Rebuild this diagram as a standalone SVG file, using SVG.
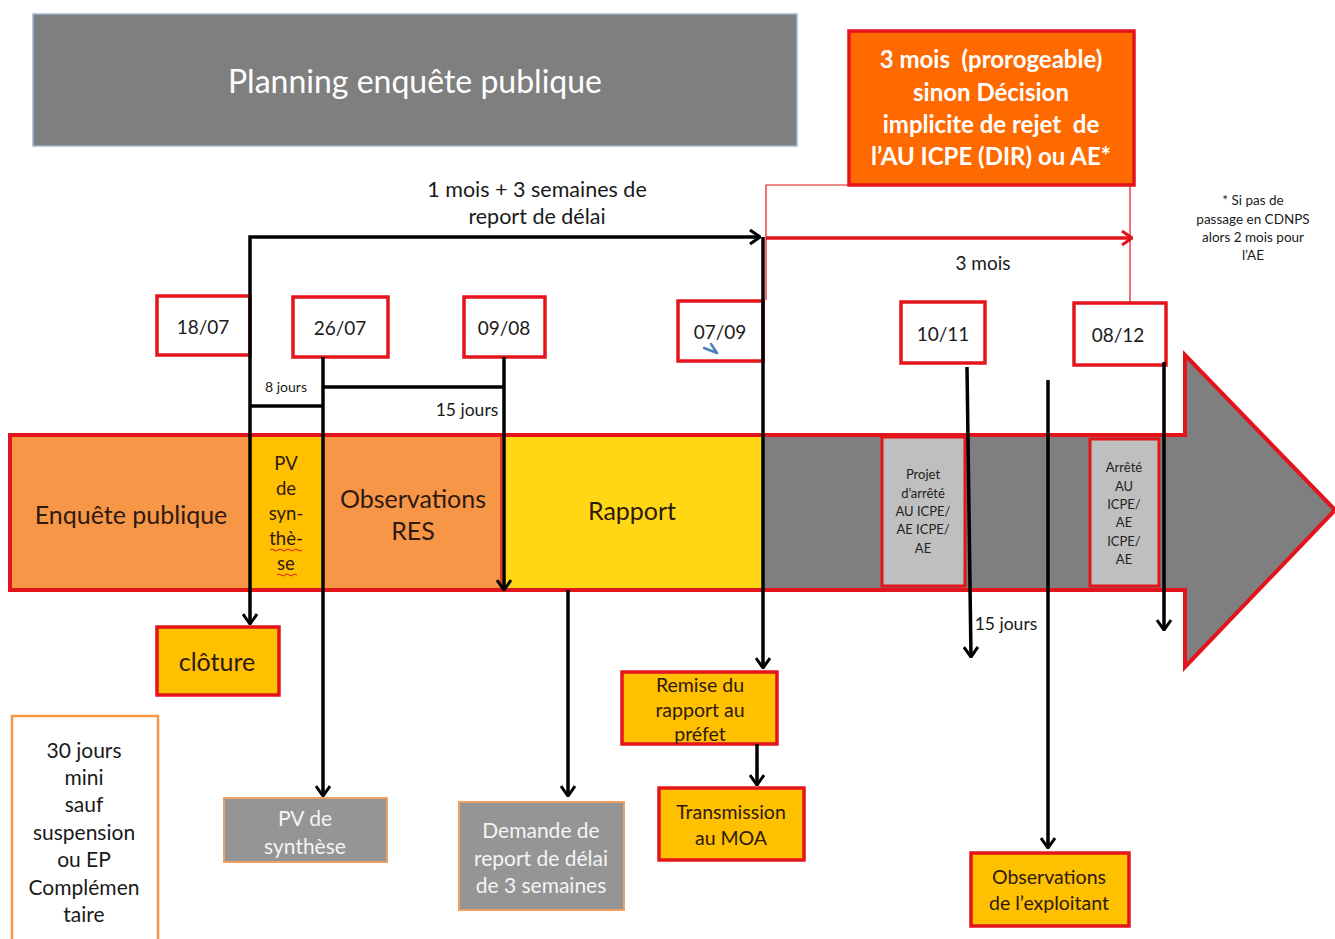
<svg xmlns="http://www.w3.org/2000/svg" width="1335" height="939" viewBox="0 0 1335 939">
<style>
text{font-family:Lato,"Open Sans","Liberation Sans",sans-serif;text-anchor:middle;dominant-baseline:central;fill:#1a1a1a;white-space:pre}
.date{fill:#fff;stroke:#e3141b;stroke-width:3.5}
.ybox{fill:#ffc000;stroke:#e3141b;stroke-width:3.5}
.gbox{fill:#959595;stroke:#f0a060;stroke-width:2}
.lgbox{fill:#bfbfbf;stroke:#e3141b;stroke-width:3}
.ln{stroke:#000;stroke-width:3.5;fill:none}
.arr{stroke:#000;stroke-width:3.5;fill:none;marker-end:url(#ah)}
.d{font-size:19px}
.b22{font-size:25px;fill:#2e1a10}
.s13{font-size:13px;fill:#222}
.w19{font-size:21px;fill:#f4f4f4}
.y17{font-size:19.5px;fill:#2e1a10}
.ob{font-size:24px;font-weight:bold;fill:#fff}
.t21{font-size:21px}
</style>
<defs>
<marker id="ah" viewBox="0 0 12 16" refX="11" refY="8" markerWidth="12" markerHeight="16" markerUnits="userSpaceOnUse" orient="auto">
<path d="M1,1 L11,8 L1,15" fill="none" stroke="#000" stroke-width="3"/>
</marker>
<marker id="rah" viewBox="0 0 12 16" refX="11" refY="8" markerWidth="12" markerHeight="16" markerUnits="userSpaceOnUse" orient="auto">
<path d="M1,1 L11,8 L1,15" fill="none" stroke="#e3141b" stroke-width="3"/>
</marker>
</defs>
<rect width="1335" height="939" fill="#fff"/>

<g id="title">
<rect x="33" y="14" width="764" height="132" fill="#7f7f7f" stroke="#9fb8d6" stroke-width="1.5"/>
<text x="415" y="80" style="font-size:32px;fill:#fff">Planning enquête publique</text>
</g>

<g id="delai-box">
<rect x="849" y="31" width="285" height="154" fill="#ff6a00" stroke="#e3141b" stroke-width="3.5"/>
<text x="991" y="58" class="ob">3 mois  (prorogeable)</text>
<text x="991" y="91" class="ob">sinon Décision</text>
<text x="991" y="123" class="ob">implicite de rejet  de</text>
<text x="991" y="155" class="ob">l’AU ICPE (DIR) ou AE*</text>
</g>

<g id="footnote">
<text x="1253" y="200" style="font-size:13.5px">* Si pas de</text>
<text x="1253" y="219" style="font-size:13.5px">passage en CDNPS</text>
<text x="1253" y="237" style="font-size:13.5px">alors 2 mois pour</text>
<text x="1253" y="255" style="font-size:13.5px">l’AE</text>
</g>

<g id="timeline">
<polygon points="10,435 1185,435 1185,355 1335,510 1185,667 1185,590 10,590" fill="#7f7f7f"/>
<rect x="10" y="435" width="240" height="155" fill="#f79646"/>
<rect x="250" y="435" width="73" height="155" fill="#ffc000"/>
<rect x="323" y="435" width="179" height="155" fill="#f79646"/>
<rect x="502" y="435" width="261" height="155" fill="#ffd714"/>
<line x1="501" y1="437" x2="501" y2="588" stroke="#e3141b" stroke-width="1.5"/>
<polygon points="10,435 1185,435 1185,355 1335,510 1185,667 1185,590 10,590" fill="none" stroke="#e3141b" stroke-width="4"/>
<text x="131" y="514" class="b22">Enquête publique</text>
<text x="286" y="463" style="font-size:18.5px;fill:#2e1a10">PV</text>
<text x="286" y="488" style="font-size:18.5px;fill:#2e1a10">de</text>
<text x="286" y="513" style="font-size:18.5px;fill:#2e1a10">syn-</text>
<text x="286" y="538" style="font-size:18.5px;fill:#2e1a10">thè-</text>
<text x="286" y="563" style="font-size:18.5px;fill:#2e1a10">se</text>
<path d="M270,550 q2,-2 4,0 t4,0 t4,0 t4,0 t4,0 t4,0 t4,0 t4,0" fill="none" stroke="#e3141b" stroke-width="1"/>
<path d="M277,575 q2,-2 4,0 t4,0 t4,0 t4,0 t4,0" fill="none" stroke="#e3141b" stroke-width="1"/>
<text x="413" y="498" class="b22">Observations</text>
<text x="413" y="530" class="b22">RES</text>
<text x="632" y="510" class="b22">Rapport</text>
</g>

<g id="projet">
<rect x="882" y="437" width="83" height="149" class="lgbox"/>
<text x="923" y="474" class="s13">Projet</text>
<text x="923" y="493" class="s13">d’arrêté</text>
<text x="923" y="511" class="s13">AU ICPE/</text>
<text x="923" y="529" class="s13">AE ICPE/</text>
<text x="923" y="548" class="s13">AE</text>
</g>

<g id="arrete">
<rect x="1090" y="439" width="69" height="147" class="lgbox"/>
<text x="1124" y="467" class="s13">Arrêté</text>
<text x="1124" y="486" class="s13">AU</text>
<text x="1124" y="504" class="s13">ICPE/</text>
<text x="1124" y="522" class="s13">AE</text>
<text x="1124" y="541" class="s13">ICPE/</text>
<text x="1124" y="559" class="s13">AE</text>
</g>

<g id="d1807"><rect x="157" y="296" width="93" height="59" class="date"/><text x="203" y="326" class="d">18/07</text></g>
<g id="d2607"><rect x="293" y="297" width="95" height="60" class="date"/><text x="340" y="327" class="d">26/07</text></g>
<g id="d0908"><rect x="464" y="297" width="81" height="60" class="date"/><text x="504" y="327" class="d">09/08</text></g>
<g id="d0709"><rect x="678" y="301" width="85" height="60" class="date"/><text x="720" y="331" class="d">07/09</text>
<path d="M704,348 L717,353 M711,344 L717,353" fill="none" stroke="#4f81bd" stroke-width="2.5" stroke-linecap="round"/></g>
<g id="d1011"><rect x="901" y="302" width="84" height="61" class="date"/><text x="943" y="333" class="d">10/11</text></g>
<g id="d0812"><rect x="1074" y="303" width="92" height="62" class="date"/><text x="1118" y="334" class="d">08/12</text></g>

<g id="cloture"><rect x="157" y="627" width="122" height="68" class="ybox"/><text x="217" y="661" class="b22">clôture</text></g>

<g id="trente">
<rect x="12" y="716" width="146" height="230" fill="#fff" stroke="#f79646" stroke-width="2.5"/>
<text x="84" y="749" class="t21">30 jours</text>
<text x="84" y="776" class="t21">mini</text>
<text x="84" y="803" class="t21">sauf</text>
<text x="84" y="831" class="t21">suspension</text>
<text x="84" y="858" class="t21">ou EP</text>
<text x="84" y="886" class="t21">Complémen</text>
<text x="84" y="913" class="t21">taire</text>
</g>

<g id="pvsynthese"><rect x="224" y="798" width="163" height="64" class="gbox"/>
<text x="305" y="817" class="w19">PV de</text><text x="305" y="845" class="w19">synthèse</text></g>

<g id="demande"><rect x="459" y="802" width="165" height="108" class="gbox"/>
<text x="541" y="829" class="w19">Demande de</text><text x="541" y="857" class="w19">report de délai</text><text x="541" y="884" class="w19">de 3 semaines</text></g>

<g id="remise"><rect x="622" y="672" width="155" height="72" class="ybox"/>
<text x="700" y="684" class="y17">Remise du</text>
<text x="700" y="709" class="y17">rapport au</text>
<text x="700" y="733" class="y17">préfet</text></g>

<g id="transmission"><rect x="659" y="788" width="145" height="72" class="ybox"/>
<text x="731" y="811" class="y17">Transmission</text><text x="731" y="837" class="y17">au MOA</text></g>

<g id="exploitant"><rect x="971" y="853" width="158" height="73" class="ybox"/>
<text x="1049" y="876" class="y17">Observations</text><text x="1049" y="902" class="y17">de l’exploitant</text></g>

<g id="connectors">
<polyline points="766,300 766,185 1130,185 1130,303" fill="none" stroke="#e3141b" stroke-width="1.2"/>
<line x1="766" y1="238" x2="1132" y2="238" stroke="#e3141b" stroke-width="3.5" marker-end="url(#rah)"/>
<text x="983" y="262" style="font-size:19px">3 mois</text>

<polyline points="250,355 250,237 760,237" class="arr"/>
<text x="537" y="189" style="font-size:21.5px">1 mois + 3 semaines de</text>
<text x="537" y="216" style="font-size:21.5px">report de délai</text>
<line x1="250" y1="355" x2="250" y2="624" class="arr"/>

<line x1="250" y1="406" x2="323" y2="406" class="ln"/>
<text x="286" y="386" style="font-size:14px">8 jours</text>
<line x1="323" y1="357" x2="323" y2="796" class="arr"/>

<line x1="323" y1="387" x2="504" y2="387" class="ln"/>
<text x="467" y="409" style="font-size:17.5px">15 jours</text>
<line x1="504" y1="357" x2="504" y2="590" class="arr"/>

<line x1="763" y1="237" x2="763" y2="668" class="arr"/>
<line x1="568" y1="590" x2="568" y2="796" class="arr"/>
<line x1="757" y1="744" x2="757" y2="785" class="arr"/>

<line x1="967" y1="367" x2="971" y2="657" class="arr"/>
<text x="1006" y="623" style="font-size:17.5px">15 jours</text>
<line x1="1048" y1="380" x2="1048" y2="848" class="arr"/>
<line x1="1164" y1="362" x2="1164" y2="630" class="arr"/>
</g>
</svg>
